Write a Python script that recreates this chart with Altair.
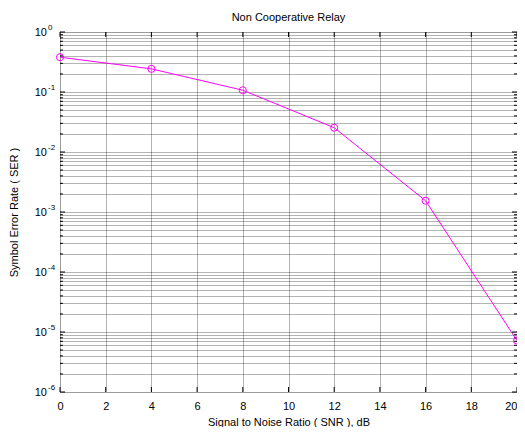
import altair as alt
import pandas as pd

# ---- data ----
snr_db = [0, 4, 8, 12, 16, 20]
ser = [0.38, 0.243, 0.107, 0.0254, 0.00154, 7.2e-6]

x_ticks = [0, 2, 4, 6, 8, 10, 12, 14, 16, 18, 20]
decade_exp = [0, -1, -2, -3, -4, -5, -6]
minor_mult = [2, 3, 4, 5, 6, 7, 8, 9]

title_text = "Non Cooperative Relay"
x_title = "Signal to Noise Ratio ( SNR ), dB"
y_title = "Symbol Error Rate ( SER )"

W, H = 457, 360
FONT = "Liberation Sans"
MAG = "#FF00FF"

data = pd.DataFrame({"snr": snr_db, "ser": ser})
major_vals = [10.0 ** e for e in decade_exp]
minor_vals = [m * 10.0 ** e for e in decade_exp[1:] for m in minor_mult]
grid_vals = sorted(major_vals + minor_vals)

dec_df = pd.DataFrame({"ser": major_vals, "e": [str(e) for e in decade_exp]})
minor_df = pd.DataFrame({"ser": minor_vals})
xt_df = pd.DataFrame({"snr": x_ticks})

xscale = alt.Scale(domain=[0, 20], nice=False, zero=False)
yscale = alt.Scale(type="log", domain=[1e-6, 1], nice=False)

grid_style = dict(grid=True, gridColor="#000000", gridDash=[1, 1], gridOpacity=0.6, gridWidth=1)

xaxis = alt.Axis(
    values=x_ticks, ticks=False, domain=False, labelFont=FONT, labelFontSize=11,
    labelColor="#000", labelPadding=8, labelFlush=False,
    labelAlign={"expr": "datum.value == 20 ? 'right' : 'center'"},
    title=x_title, titleFont=FONT,
    titleFontSize=11, titleFontWeight="normal", titlePadding=5, titleColor="#000",
    **grid_style)
yaxis = alt.Axis(
    values=grid_vals, ticks=False, domain=False, labels=False, title=y_title,
    titleFont=FONT, titleFontSize=11, titleFontWeight="normal", titleColor="#000",
    titlePadding=41, **grid_style)

X = alt.X("snr:Q", scale=xscale, axis=xaxis)
Y = alt.Y("ser:Q", scale=yscale, axis=yaxis)

line = alt.Chart(data).mark_line(color=MAG, strokeWidth=1, clip=False).encode(x=X, y=Y)

pts = alt.Chart(data).mark_point(shape="circle", filled=False, size=50, color=MAG,
                                 strokeWidth=1, opacity=1, clip=False).encode(x=X, y=Y)

lab10 = alt.Chart(dec_df).mark_text(align="right", baseline="middle", font=FONT,
                                    fontSize=11, color="#000", dy=1).encode(
    y=Y, x=alt.value(-13), text=alt.value("10"))
labexp = alt.Chart(dec_df).mark_text(align="left", baseline="middle", font=FONT,
                                     fontSize=8, color="#000", dy=-4).encode(
    y=Y, x=alt.value(-12), text="e:N")

def yticks(df, L):
    left = alt.Chart(df).mark_rule(color="#000", strokeWidth=1).encode(
        y=Y, x=alt.value(0), x2=alt.value(L))
    right = alt.Chart(df).mark_rule(color="#000", strokeWidth=1).encode(
        y=Y, x=alt.value(W - L), x2=alt.value(W))
    return [left, right]

xt_bot = alt.Chart(xt_df).mark_rule(color="#000", strokeWidth=1).encode(
    x=X, y=alt.value(H - 5), y2=alt.value(H))
xt_top = alt.Chart(xt_df).mark_rule(color="#000", strokeWidth=1).encode(
    x=X, y=alt.value(0), y2=alt.value(5))

chart = alt.layer(
    line, *yticks(dec_df, 5), *yticks(minor_df, 3), xt_bot, xt_top, pts, lab10, labexp
).properties(
    width=W, height=H,
    title=alt.TitleParams(title_text, font=FONT, fontSize=11, fontWeight="normal",
                          color="#000", offset=1, anchor="middle"),
    autosize=alt.AutoSizeParams(type="none"),
    padding={"left": 52, "top": 24, "right": 0, "bottom": 35},
).configure_view(stroke="#000", strokeWidth=1.5).configure(background="white")

chart.save("out.html", embed_options={"renderer": "svg", "actions": False})
